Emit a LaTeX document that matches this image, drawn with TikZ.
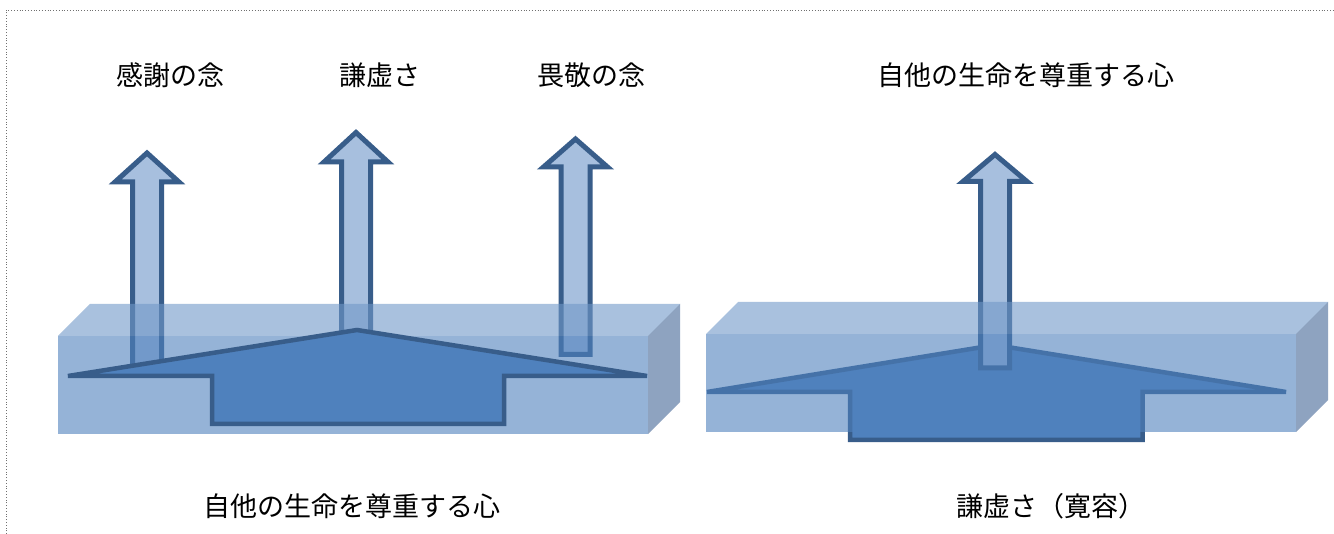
\documentclass[tikz,border=0pt]{standalone}
\usepackage{fontspec}
\newfontfamily\jpfont{Noto Sans CJK JP}

\definecolor{outl}{HTML}{385D8A}
\definecolor{shaft}{HTML}{A7BFDE}
\definecolor{accent}{HTML}{4F81BD}
\definecolor{topface}{HTML}{7098C8}
\definecolor{sideface}{HTML}{436696}
\definecolor{framegray}{HTML}{707070}

\tikzset{
  uparrow/.style={fill=shaft, draw=outl, line width=5pt, line join=miter},
  bigarrow/.style={fill=accent, draw=outl, line width=4.5pt, line join=miter},
  frontface/.style={fill=accent, fill opacity=0.6},
  topfacestyle/.style={fill=topface, fill opacity=0.6},
  sidefacestyle/.style={fill=sideface, fill opacity=0.6},
  caption/.style={font=\jpfont\fontsize{27}{32}\selectfont, inner sep=0pt, text=black},
  pageframe/.style={draw=framegray, dotted, line width=0.8pt}
}

% vertical block arrow: centre x, tip y, head base y, bottom y, shaft half-width, head half-width
\newcommand\blockarrowup[6]{%
  \draw[uparrow] (#1,#2) -- (#1+#6,#3) -- (#1+#5,#3) -- (#1+#5,#4)
    -- (#1-#5,#4) -- (#1-#5,#3) -- (#1-#6,#3) -- cycle;}

% translucent slab: front face corners (x0,y0) and (x1,y1), depth 32
\newcommand\slab[4]{%
  \fill[topfacestyle] (#1,#2) -- (#1+32,#2-32) -- (#3+32,#2-32) -- (#3,#2) -- cycle;
  \fill[frontface] (#1,#2) rectangle (#3,#4);
  \fill[sidefacestyle] (#3,#2) -- (#3+32,#2-32) -- (#3+32,#4-32) -- (#3,#4) -- cycle;}

\begin{document}
\begin{tikzpicture}[x=1pt,y=-1pt]
  \useasboundingbox (0,0) rectangle (1334,534);
  \fill[white] (0,0) rectangle (1334,534);

  % page frame
  \draw[pageframe] (6,534) -- (6,10) -- (1334,10);

  % ---- left panel ----
  \blockarrowup{147}{153}{182}{370}{14.5}{32}
  \blockarrowup{356}{132.5}{162}{360}{14.5}{32}
  \blockarrowup{575.5}{139}{167}{354.5}{14.5}{32}

  \slab{58}{336}{648}{434}

  \draw[bigarrow] (68,376) -- (357,330) -- (647,376) -- (504,376) -- (504,424)
    -- (212,424) -- (212,376) -- cycle;

  \node[caption] (gratitude) at (170.5,75) {感謝の念};
  \node[caption] (humility)  at (380,75)   {謙虚さ};
  \node[caption] (awe)       at (591,75)   {畏敬の念};
  \node[caption] (respectL)  at (351.5,506) {自他の生命を尊重する心};

  % ---- right panel ----
  \draw[bigarrow] (707,392) -- (995,345) -- (1286,392) -- (1142.5,392) -- (1142.5,440)
    -- (850,440) -- (850,392) -- cycle;
  \blockarrowup{995}{154.5}{181.5}{368}{14.5}{32}

  \slab{706}{334}{1296}{432}

  \node[caption] (respectR)   at (1026,75)  {自他の生命を尊重する心};
  \node[caption] (tolerance)  at (1051,506) {謙虚さ（寛容）};
\end{tikzpicture}
\end{document}
